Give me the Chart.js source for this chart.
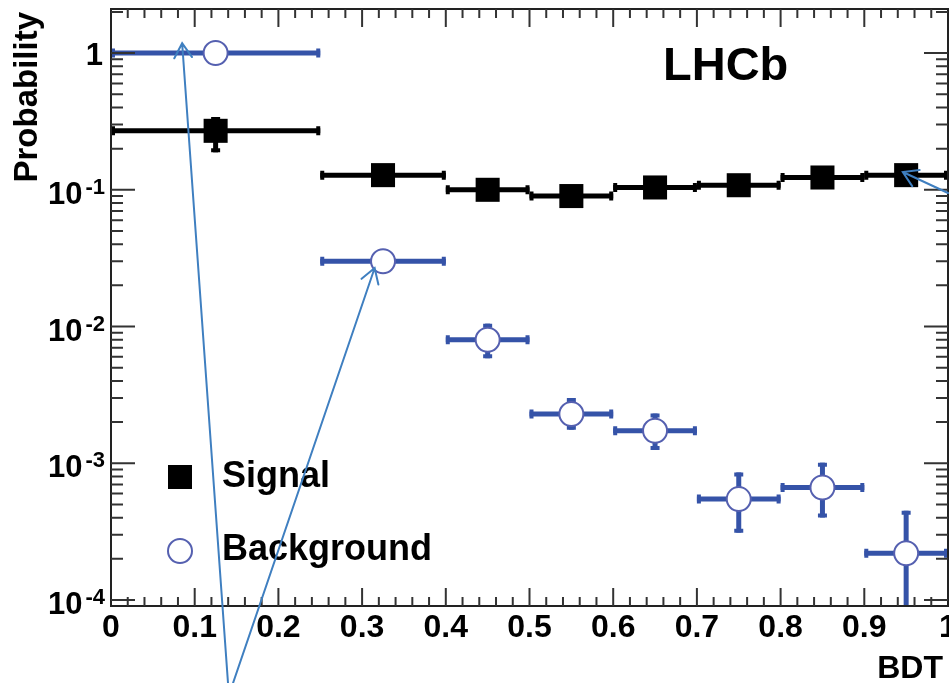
<!DOCTYPE html>
<html>
<head>
<meta charset="utf-8">
<style>
  html, body { margin: 0; padding: 0; background: #fff; }
</style>
</head>
<body>
<canvas id="bdtChart" width="949" height="683"></canvas>
<script src="https://cdn.jsdelivr.net/npm/chart.js"></script>
<script>
// BDT bins
const binLow    = [0, 0.25, 0.4, 0.5, 0.6, 0.7, 0.8, 0.9];
const binHigh   = [0.25, 0.4, 0.5, 0.6, 0.7, 0.8, 0.9, 1.0];
const binCentre = [0.125, 0.325, 0.45, 0.55, 0.65, 0.75, 0.85, 0.95];

// signal probability per bin, with lower / upper error edges
const signal        = [0.27, 0.128, 0.100, 0.090, 0.104, 0.108, 0.123, 0.128];
const signalErrLow  = [0.188, 0.121, 0.095, 0.085, 0.099, 0.103, 0.117, 0.121];
const signalErrHigh = [0.34, 0.135, 0.105, 0.095, 0.109, 0.113, 0.129, 0.135];

// background probability per bin
const background        = [1.0, 0.030, 0.0080, 0.00229, 0.00173, 0.000547, 0.000665, 0.00022];
const backgroundErrLow  = [0.98, 0.029, 0.00586, 0.00176, 0.00125, 0.000311, 0.000401, 0.00005];
const backgroundErrHigh = [1.02, 0.031, 0.0105, 0.0030, 0.00231, 0.000857, 0.00101, 0.000449];

// axis labels
const xTickValues = [0, 0.1, 0.2, 0.3, 0.4, 0.5, 0.6, 0.7, 0.8, 0.9, 1];
const xTickLabels = ["0", "0.1", "0.2", "0.3", "0.4", "0.5", "0.6", "0.7", "0.8", "0.9", "1"];
const yTickValues = [1, 0.1, 0.01, 0.001, 0.0001];
const yTickBase   = ["1", "10", "10", "10", "10"];
const yTickExp    = ["", "-1", "-2", "-3", "-4"];

// annotation arrows (tail -> tip), in data units
const arrowTails = [[0.1398, 2.47e-5], [0.1458, 2.47e-5], [1.0, 0.0947]];
const arrowTips  = [[0.085, 1.18], [0.315, 0.0268], [0.946, 0.135]];

const FONT = '"Liberation Sans", Arial, Helvetica, sans-serif';
const BG_BLUE = "#3553a8";

function drawErrors(ctx, x, y, vals, lo, hi, color) {
    ctx.strokeStyle = color;
    ctx.lineCap = "butt";
    for (let i = 0; i < vals.length; i++) {
        const py = y.getPixelForValue(vals[i]);
        const x0 = x.getPixelForValue(binLow[i]), x1 = x.getPixelForValue(binHigh[i]);
        const px = x.getPixelForValue(binCentre[i]);
        ctx.lineWidth = 5;
        ctx.beginPath(); ctx.moveTo(x0, py); ctx.lineTo(x1, py); ctx.stroke();
        const yl = y.getPixelForValue(lo[i]), yh = y.getPixelForValue(hi[i]);
        ctx.beginPath(); ctx.moveTo(px, yh); ctx.lineTo(px, yl); ctx.stroke();
        ctx.lineWidth = 4;
        ctx.beginPath();
        ctx.moveTo(x0 + 2, py - 4.5); ctx.lineTo(x0 + 2, py + 4.5);
        ctx.moveTo(x1 - 2, py - 4.5); ctx.lineTo(x1 - 2, py + 4.5);
        ctx.moveTo(px - 4.5, yh + 2); ctx.lineTo(px + 4.5, yh + 2);
        ctx.moveTo(px - 4.5, yl - 2); ctx.lineTo(px + 4.5, yl - 2);
        ctx.stroke();
    }
}

function drawArrow(ctx, x0, y0, x1, y1) {
    const ang = Math.atan2(y1 - y0, x1 - x0), len = 17, spread = 0.55;
    ctx.beginPath();
    ctx.moveTo(x0, y0); ctx.lineTo(x1, y1);
    ctx.moveTo(x1 - len * Math.cos(ang - spread), y1 - len * Math.sin(ang - spread));
    ctx.lineTo(x1, y1);
    ctx.lineTo(x1 - len * Math.cos(ang + spread), y1 - len * Math.sin(ang + spread));
    ctx.stroke();
}

const rootStyle = {
    id: "rootStyle",
    beforeDatasetsDraw(chart) {
        const { ctx, chartArea: a, scales: { x, y } } = chart;
        ctx.save();
        ctx.beginPath(); ctx.rect(a.left, a.top, a.right - a.left, a.bottom - a.top); ctx.clip();
        drawErrors(ctx, x, y, signal, signalErrLow, signalErrHigh, "#000");
        drawErrors(ctx, x, y, background, backgroundErrLow, backgroundErrHigh, BG_BLUE);
        ctx.restore();
    },
    afterDraw(chart) {
        const { ctx, chartArea: a, scales: { x, y } } = chart;
        ctx.save();

        // frame
        ctx.strokeStyle = "#222"; ctx.lineWidth = 2;
        ctx.strokeRect(a.left, a.top, a.right - a.left, a.bottom - a.top);

        // x ticks, bottom and top
        ctx.strokeStyle = "#333"; ctx.lineWidth = 2;
        ctx.beginPath();
        for (let i = 1; i < 50; i++) {
            const px = x.getPixelForValue(i * 0.02);
            const len = i % 5 === 0 ? 18 : 9;
            ctx.moveTo(px, a.bottom); ctx.lineTo(px, a.bottom - len);
            ctx.moveTo(px, a.top); ctx.lineTo(px, a.top + len);
        }
        // y ticks, left and right
        for (let d = -5; d <= 0; d++) {
            for (let k = 1; k <= 9; k++) {
                const v = k * Math.pow(10, d);
                if (v <= y.min || v >= y.max) continue;
                const py = y.getPixelForValue(v);
                const len = k === 1 ? 24 : 12;
                ctx.moveTo(a.left, py); ctx.lineTo(a.left + len, py);
                ctx.moveTo(a.right, py); ctx.lineTo(a.right - len, py);
            }
        }
        ctx.stroke();

        // tick labels
        ctx.fillStyle = "#000";
        ctx.font = "bold 32px " + FONT;
        ctx.textAlign = "center"; ctx.textBaseline = "alphabetic";
        xTickValues.forEach((v, i) => ctx.fillText(xTickLabels[i], x.getPixelForValue(v), a.bottom + 31));

        ctx.textAlign = "right";
        yTickValues.forEach((v, i) => {
            const py = y.getPixelForValue(v);
            const right = a.left - 6;
            if (!yTickExp[i]) {
                ctx.font = "bold 31px " + FONT;
                ctx.fillText(yTickBase[i], right - 2, py + 12);
                return;
            }
            ctx.font = "bold 22px " + FONT;
            ctx.fillText(yTickExp[i], right, py + 4);
            const w = ctx.measureText(yTickExp[i]).width;
            ctx.font = "bold 31px " + FONT;
            ctx.fillText(yTickBase[i], right - w - 3, py + 14);
        });

        // axis titles
        ctx.font = "bold 33px " + FONT;
        ctx.save();
        ctx.translate(37, a.top + 3);
        ctx.rotate(-Math.PI / 2);
        ctx.textAlign = "right";
        ctx.fillText("Probability", 0, 0);
        ctx.restore();
        ctx.font = "bold 32px " + FONT;
        ctx.textAlign = "right";
        ctx.fillText("BDT", a.right - 5, a.bottom + 72);

        // LHCb label
        ctx.font = "bold 47px " + FONT;
        ctx.textAlign = "left";
        ctx.fillText("LHCb", a.left + 552, a.top + 71);

        // legend
        const sets = chart.data.datasets;
        ctx.font = "bold 36px " + FONT;
        ctx.fillStyle = "#000";
        ctx.fillRect(a.left + 57, a.top + 456, 24, 24);
        ctx.fillText(sets[0].label, a.left + 111, a.top + 478);
        ctx.beginPath();
        ctx.arc(a.left + 69, a.top + 542, 12, 0, Math.PI * 2);
        ctx.fillStyle = "#fff"; ctx.fill();
        ctx.strokeStyle = sets[1].borderColor; ctx.lineWidth = 2; ctx.stroke();
        ctx.fillStyle = "#000";
        ctx.fillText(sets[1].label, a.left + 111, a.top + 551);

        // annotation arrows
        ctx.strokeStyle = "#3f7fc0"; ctx.lineWidth = 2; ctx.lineCap = "round";
        arrowTips.forEach((t, i) => {
            const f = arrowTails[i];
            drawArrow(ctx, x.getPixelForValue(f[0]), y.getPixelForValue(f[1]),
                      x.getPixelForValue(t[0]), y.getPixelForValue(t[1]));
        });
        ctx.restore();
    }
};

new Chart(document.getElementById("bdtChart"), {
    type: "scatter",
    data: {
        datasets: [
            {
                label: "Signal",
                data: binCentre.map((v, i) => ({ x: v, y: signal[i] })),
                pointStyle: "rect", pointRadius: 17,
                backgroundColor: "#000", borderColor: "#000", borderWidth: 0
            },
            {
                label: "Background",
                data: binCentre.map((v, i) => ({ x: v, y: background[i] })),
                pointStyle: "circle", pointRadius: 12,
                backgroundColor: "#fff", borderColor: "#5560b0", borderWidth: 2
            }
        ]
    },
    options: {
        responsive: false,
        animation: false,
        events: [],
        layout: { autoPadding: false, padding: { left: 111, right: 1, top: 9, bottom: 77 } },
        scales: {
            x: { type: "linear", min: 0, max: 1, display: false },
            y: { type: "logarithmic", min: 9.04e-5, max: 2.1, display: false }
        },
        plugins: { legend: { display: false }, tooltip: { enabled: false } }
    },
    plugins: [rootStyle]
});
</script>
</body>
</html>
